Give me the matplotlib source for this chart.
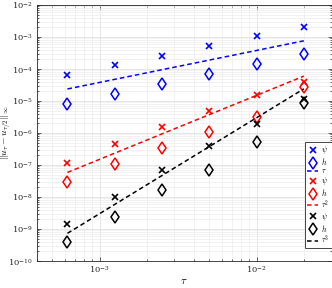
import numpy as np
import matplotlib
matplotlib.use("Agg")
import matplotlib.pyplot as plt
from matplotlib.ticker import LogLocator, NullFormatter

plt.rcParams['mathtext.fontset'] = 'cm'
plt.rcParams['font.family'] = ['DejaVu Serif']

tau = [6.25e-4, 1.25e-3, 2.5e-3, 5e-3, 1e-2, 2e-2]

psi1 = [6.6e-5, 1.33e-4, 2.6e-4, 5.2e-4, 1.07e-3, 2.1e-3]
h1 = [8.3e-6, 1.66e-5, 3.5e-5, 6.8e-5, 1.4e-4, 2.9e-4]
psi2 = [1.18e-7, 4.5e-7, 1.57e-6, 4.87e-6, 1.54e-5, 3.84e-5]
h2 = [3.0e-8, 1.07e-7, 3.5e-7, 1.05e-6, 3.1e-6, 2.7e-5]
psi3 = [1.4e-9, 1.0e-8, 6.8e-8, 3.9e-7, 1.9e-6, 1.15e-5]
h3 = [3.8e-10, 2.4e-9, 1.6e-8, 7.1e-8, 5.1e-7, 8.4e-6]

c1, c2, c3 = 0.038, 0.15, 3.0

t = np.array(tau)
fig = plt.figure(figsize=(3.32, 2.88), dpi=100)
ax = fig.add_axes([37/332, 27/288, 294.5/332, 256/288])

ax.set_xscale('log')
ax.set_yscale('log')

ax.grid(True, which='major', color='#dcdcdc', lw=0.5, zorder=0)
ax.grid(True, which='minor', color='#ececec', lw=0.5, zorder=0)

groups = [((0, 0, 1), psi1, h1, c1 * t, r'$\tau$'),
          ((1, 0, 0), psi2, h2, c2 * t**2, r'$\tau^2$'),
          ((0, 0, 0), psi3, h3, c3 * t**3, r'$\tau^3$')]
for col, p, h, ref, lab in groups:
    ax.plot(tau, p, ls='none', marker='x', ms=4, mew=1.2, color=col, label=r'$\psi$')
    ax.plot(tau, h, ls='none', marker='d', ms=6, mew=1.1, mfc='none', color=col, label=r'$h$')
    ax.plot(tau, ref, ls=(0, (3, 2)), lw=1.1, color=col, label=lab)

ax.set_xlim(4e-4, 3e-2)
ax.set_ylim(1e-10, 1e-2)
ax.yaxis.set_major_locator(LogLocator(base=10, numticks=20))
ax.yaxis.set_minor_locator(LogLocator(base=10, subs=np.arange(2, 10), numticks=20))
ax.yaxis.set_minor_formatter(NullFormatter())
ax.xaxis.set_minor_formatter(NullFormatter())

for s in ax.spines.values():
    s.set_color('#262626')
    s.set_linewidth(0.6)
ax.tick_params(which='both', direction='in', top=True, right=True, colors='#262626',
               labelsize=6, width=0.5, pad=3)
ax.tick_params(which='major', length=3)
ax.tick_params(which='minor', length=1.5, labelbottom=False, labelleft=False)

ax.set_xlabel(r'$\tau$', fontsize=8)
ax.xaxis.set_label_coords(0.5, -0.06)
ax.set_ylabel(r'$\|u_\tau - u_{\tau/2}\|_\infty$', fontsize=7)
ax.yaxis.set_label_coords(-0.079, 0.5)

leg = ax.legend(loc='lower right', bbox_to_anchor=(1.0, 0.05), borderaxespad=0,
                fontsize=5.5, handlelength=1.4, handletextpad=0.4, labelspacing=0.0,
                handleheight=0.4, borderpad=0.25, fancybox=False, framealpha=1,
                edgecolor='#262626')
leg.get_frame().set_linewidth(0.6)

fig.savefig('out.png', dpi=100)
